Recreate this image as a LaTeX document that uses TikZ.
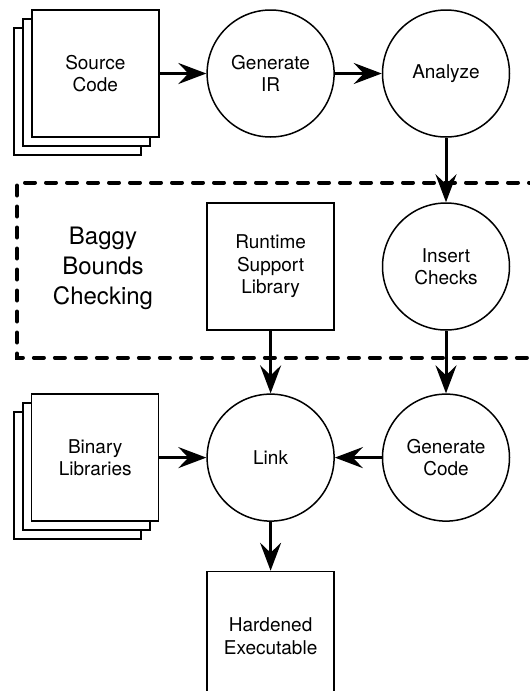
\documentclass[tikz,border=0pt]{standalone}
\usepackage{fontspec}
\setmainfont{TeX Gyre Heros}
\usetikzlibrary{arrows.meta}
\begin{document}
\begin{tikzpicture}[x=1pt,y=-1pt,
  every node/.style={font=\fontsize{19}{22.5}\selectfont, align=center},
  proc/.style={circle, draw, line width=1.5pt, minimum size=127pt, inner sep=0pt, fill=white},
  docbox/.style={rectangle, draw, line width=1.5pt, minimum width=127pt, minimum height=127pt, inner sep=0pt, fill=white},
  flow/.style={line width=3pt, -{Stealth[length=28pt, width=21pt, inset=10pt]}},
  groupbox/.style={line width=4pt, dash pattern=on 10pt off 11pt, line cap=round}
]
\useasboundingbox (0,0) rectangle (530,691);

% group box
\draw[groupbox] (560,182.5) -- (17,182.5) -- (17,357.6) -- (560,357.6);
\node[font=\fontsize{24}{30}\selectfont] (baggy) at (103,268) {Baggy\\Bounds\\Checking};

% source code stack
\node[docbox] (srcb) at (77.5,91.5) {};
\node[docbox] (srcm) at (86.4,82.5) {};
\node[docbox] (src) at (95.3,73.5) {Source\\Code};

% binary libraries stack
\node[docbox] (binb) at (77.5,475.6) {};
\node[docbox] (binm) at (86.4,466.6) {};
\node[docbox] (bin) at (95.2,457.6) {Binary\\Libraries};

% processes
\node[proc] (genir) at (270.6,73.5) {Generate\\IR};
\node[proc] (analyze) at (446,73.5) {Analyze};
\node[docbox] (runtime) at (270.6,266.5) {Runtime\\Support\\Library};
\node[proc] (insert) at (446,266.5) {Insert\\Checks};
\node[proc] (link) at (270.6,457.6) {Link};
\node[proc] (gencode) at (446,457.6) {Generate\\Code};
\node[docbox, minimum height=129pt] (hard) at (270.6,636) {Hardened\\Executable};

% connectors
\draw[flow] (src) -- (genir);
\draw[flow] (genir) -- (analyze);
\draw[flow] (analyze) -- (insert);
\draw[flow] (insert) -- (gencode);
\draw[flow] (runtime) -- (link);
\draw[flow] (bin) -- (link);
\draw[flow] (gencode) -- (link);
\draw[flow] (link) -- (hard);
\end{tikzpicture}
\end{document}
